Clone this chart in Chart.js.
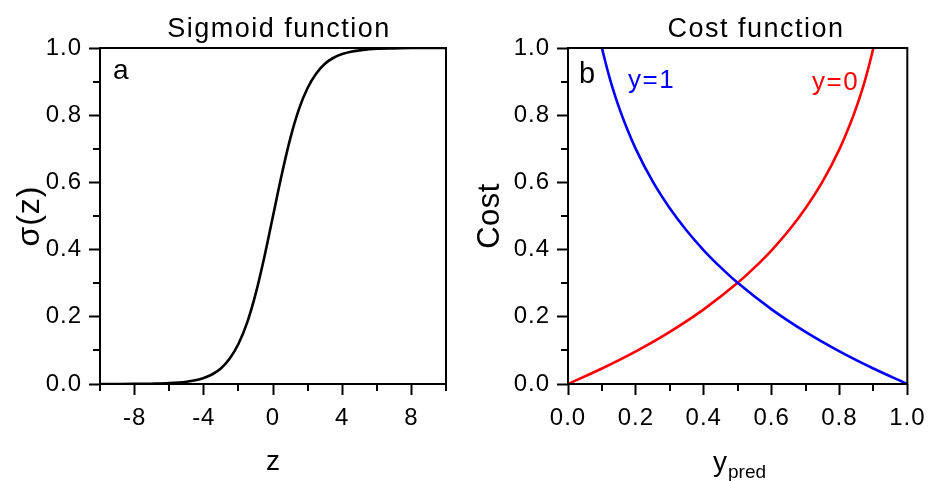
<!DOCTYPE html>
<html>
<head>
<meta charset="utf-8">
<script src="https://cdn.jsdelivr.net/npm/chart.js@4.4.0/dist/chart.umd.min.js"></script>
<style>
  body { margin: 0; background: #fff; }
  #wrap { position: relative; width: 933px; height: 481px; }
  .panel { position: absolute; top: 0; }
  #left { left: 0; }
  #right { left: 466px; }
</style>
</head>
<body>
<div id="wrap">
  <div class="panel" id="left"><canvas id="sigmoidChart" width="466" height="481"></canvas></div>
  <div class="panel" id="right"><canvas id="costChart" width="467" height="481"></canvas></div>
</div>
<script>
// sigmoid curve samples
const sigmoidZ = [-10, -9, -8, -7, -6, -5, -4.5, -4, -3.5, -3, -2.5, -2, -1.5, -1, -0.5, 0,
    0.5, 1, 1.5, 2, 2.5, 3, 3.5, 4, 4.5, 5, 6, 7, 8, 9, 10];
const sigmoidValues = [0.0000, 0.0001, 0.0003, 0.0009, 0.0025, 0.0067, 0.011, 0.018, 0.029, 0.047,
    0.076, 0.119, 0.182, 0.269, 0.378, 0.500, 0.622, 0.731, 0.818, 0.881, 0.924, 0.953, 0.971,
    0.982, 0.989, 0.993, 0.998, 0.999, 1.000, 1.000, 1.000];

// cost curves, y=1 (blue) and y=0 (red)
const predY1 = [0.10, 0.11, 0.12, 0.13, 0.15, 0.17, 0.20, 0.25, 0.30, 0.35, 0.40, 0.45, 0.50,
    0.60, 0.70, 0.80, 0.90, 1.00];
const costY1 = [1.000, 0.959, 0.921, 0.886, 0.824, 0.770, 0.699, 0.602, 0.523, 0.456, 0.398,
    0.347, 0.301, 0.222, 0.155, 0.097, 0.046, 0.000];
const predY0 = [0.00, 0.10, 0.20, 0.30, 0.40, 0.50, 0.55, 0.60, 0.65, 0.70, 0.75, 0.80, 0.83,
    0.85, 0.87, 0.88, 0.89, 0.90];
const costY0 = [0.000, 0.046, 0.097, 0.155, 0.222, 0.301, 0.347, 0.398, 0.456, 0.523, 0.602,
    0.699, 0.770, 0.824, 0.886, 0.921, 0.959, 1.000];

// labelled ticks, the rest are minor
const zTickLabels = ['-8', '-4', '0', '4', '8'];
const unitTickLabels = ['0.0', '0.2', '0.4', '0.6', '0.8', '1.0'];

const FONT = '"Liberation Sans", Arial, sans-serif';

function toPoints(xs, ys) {
    return xs.map((x, i) => ({ x: x, y: ys[i] }));
}

// box round the plot area + short minor ticks
const frame = {
    id: 'frame',
    beforeDraw(chart) {
        // slightly looser tick labels
        chart.ctx.letterSpacing = '1px';
    },
    afterDatasetsDraw(chart) {
        const ctx = chart.ctx;
        const a = chart.chartArea;
        ctx.save();
        ctx.strokeStyle = '#000';
        ctx.lineWidth = 2;
        ctx.strokeRect(a.left, a.top, a.right - a.left, a.bottom - a.top);
        ctx.beginPath();
        chart.scales.x.ticks.forEach(t => {
            if (t.label !== '') return;
            const px = Math.round(chart.scales.x.getPixelForValue(t.value));
            ctx.moveTo(px, a.bottom);
            ctx.lineTo(px, a.bottom + 7);
        });
        chart.scales.y.ticks.forEach(t => {
            if (t.label !== '') return;
            const py = Math.round(chart.scales.y.getPixelForValue(t.value));
            ctx.moveTo(a.left - 7, py);
            ctx.lineTo(a.left, py);
        });
        ctx.stroke();
        ctx.restore();
    }
};

const panelText = {
    id: 'panelText',
    afterDraw(chart, args, opts) {
        const ctx = chart.ctx;
        (opts.items || []).forEach(t => {
            ctx.save();
            ctx.font = t.size + 'px ' + FONT;
            ctx.letterSpacing = (t.spacing || 0) + 'px';
            ctx.fillStyle = t.color || '#000';
            ctx.textAlign = t.align || 'left';
            ctx.textBaseline = t.baseline || 'alphabetic';
            ctx.translate(t.x, t.y);
            if (t.rotate) ctx.rotate(t.rotate);
            ctx.fillText(t.text, 0, 0);
            ctx.restore();
        });
    }
};

function scaleOpts(min, max, step, labels, fmt, isX, size) {
    return {
        type: 'linear',
        min: min,
        max: max,
        border: { display: false },
        grid: {
            display: true,
            drawOnChartArea: false,
            tickLength: 11,
            tickWidth: 2,
            tickColor: c => (c.tick && labels.includes(fmt(c.tick.value)) ? '#000' : 'rgba(0,0,0,0)'),
        },
        ticks: {
            stepSize: step,
            autoSkip: false,
            maxRotation: 0,
            padding: isX ? 9 : 7,
            color: '#000',
            font: { family: FONT, size: 24 },
            callback: v => (labels.includes(fmt(v)) ? fmt(v) : ''),
        },
        afterFit: s => {
            if (isX) s.height = size; else s.width = size;
        },
    };
}

const fmtInt = v => String(Math.round(v));
const fmtOne = v => (Math.round(v * 10) / 10).toFixed(1);

const lineStyle = {
    pointRadius: 0,
    borderWidth: 2.6,
    cubicInterpolationMode: 'monotone',
    fill: false,
};

new Chart(document.getElementById('sigmoidChart'), {
    type: 'line',
    data: {
        datasets: [
            Object.assign({ data: toPoints(sigmoidZ, sigmoidValues), borderColor: '#000' }, lineStyle),
        ],
    },
    options: {
        responsive: false,
        animation: false,
        layout: { padding: { left: 0, top: 48, right: 20, bottom: 0 } },
        scales: {
            x: scaleOpts(-10, 10, 2, zTickLabels, fmtInt, true, 97),
            y: scaleOpts(0, 1, 0.1, unitTickLabels, fmtOne, false, 100),
        },
        plugins: {
            legend: { display: false },
            tooltip: { enabled: false },
            panelText: {
                items: [
                    { text: 'Sigmoid function', x: 279, y: 37, size: 27, spacing: 1.5, align: 'center' },
                    { text: 'a', x: 113, y: 79, size: 28 },
                    { text: 'σ(z)', x: 30, y: 216, size: 32, spacing: 1, align: 'center', baseline: 'middle', rotate: -Math.PI / 2 },
                    { text: 'z', x: 273, y: 470, size: 28, align: 'center' },
                ],
            },
        },
    },
    plugins: [frame, panelText],
});

new Chart(document.getElementById('costChart'), {
    type: 'line',
    data: {
        datasets: [
            Object.assign({ label: 'y=1', data: toPoints(predY1, costY1), borderColor: '#0000ff' }, lineStyle),
            Object.assign({ label: 'y=0', data: toPoints(predY0, costY0), borderColor: '#ff0000' }, lineStyle),
        ],
    },
    options: {
        responsive: false,
        animation: false,
        layout: { padding: { left: 0, top: 48, right: 19, bottom: 0 } },
        scales: {
            x: scaleOpts(0, 1, 0.1, unitTickLabels, fmtOne, true, 97),
            y: scaleOpts(0, 1, 0.1, unitTickLabels, fmtOne, false, 102),
        },
        plugins: {
            legend: { display: false },
            tooltip: { enabled: false },
            panelText: {
                items: [
                    { text: 'Cost function', x: 290, y: 37, size: 27, spacing: 1.5, align: 'center' },
                    { text: 'b', x: 113, y: 83, size: 29 },
                    { text: 'y=1', x: 162, y: 88, size: 26, spacing: 1.5, color: '#0000ff' },
                    { text: 'y=0', x: 346, y: 90, size: 26, spacing: 1.5, color: '#ff0000' },
                    { text: 'Cost', x: 24, y: 216, size: 31, spacing: 0.5, align: 'center', baseline: 'middle', rotate: -Math.PI / 2 },
                    { text: 'y', x: 247, y: 471, size: 28 },
                    { text: 'pred', x: 262, y: 478, size: 19 },
                ],
            },
        },
    },
    plugins: [frame, panelText],
});
</script>
</body>
</html>
